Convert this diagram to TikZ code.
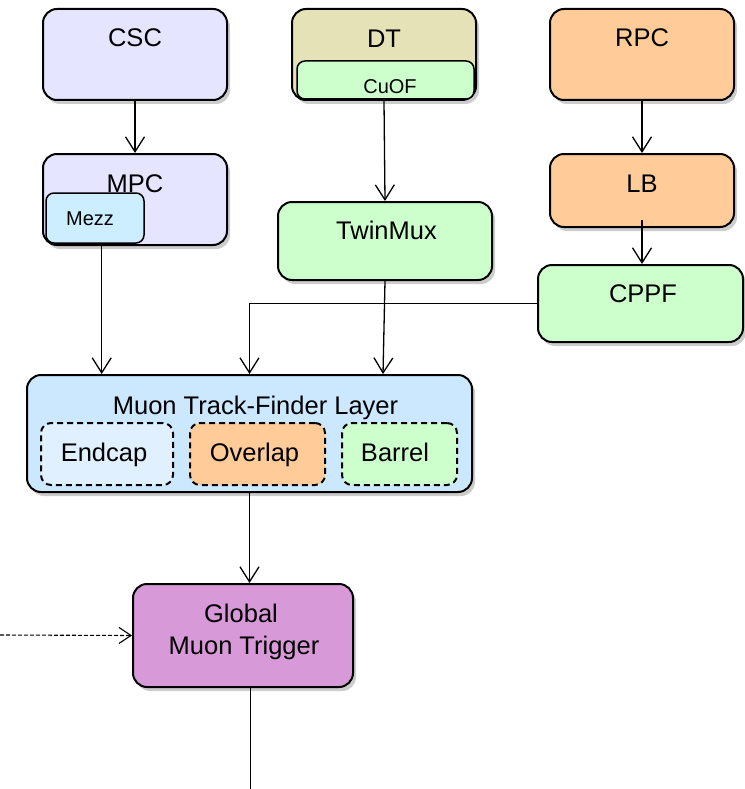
\documentclass[tikz,border=0pt]{standalone}
\usepackage{fontspec}
\setmainfont{Liberation Sans}
\usetikzlibrary{arrows.meta,shadows,calc}
\definecolor{lav}{HTML}{E5E5FF}
\definecolor{mezz}{HTML}{CCEEFF}
\definecolor{khaki}{HTML}{E6E2B8}
\definecolor{lgreen}{HTML}{CCFFCC}
\definecolor{orng}{HTML}{FFCC99}
\definecolor{lblue}{HTML}{CCE8FF}
\definecolor{pblue}{HTML}{E0F0FF}
\definecolor{violet}{HTML}{D899D8}
\begin{document}
\begin{tikzpicture}[x=1pt,y=-1pt,
  box/.style={draw=black, line width=2pt, rounded corners=14pt, inner sep=0pt,
    drop shadow={shadow xshift=3pt, shadow yshift=-4pt, opacity=0.2, fill=black}},
  subbox/.style={draw=black, line width=1.5pt, rounded corners=8pt, inner sep=0pt},
  dashbox/.style={draw=black, line width=2pt, dashed, dash pattern=on 6pt off 4pt, rounded corners=10pt, inner sep=0pt},
  lbl/.style={inner sep=0pt, font=\fontsize{25.5}{30}\selectfont, text height=18pt, text depth=0pt},
  slbl/.style={inner sep=0pt, font=\fontsize{20}{24}\selectfont, text height=14.3pt, text depth=0pt},
  arr/.style={line width=1.3pt, -{Straight Barb[length=15pt,width=19pt,line width=1.3pt]}},
  plain/.style={line width=1.3pt}
]
\useasboundingbox (0,0) rectangle (744,789);

% boxes
\node[box, fill=lav, minimum width=184pt, minimum height=91pt] (csc) at (135,54.5) {};
\node[box, fill=lav, minimum width=184pt, minimum height=91pt] (mpc) at (135,199.5) {};
\node[box, fill=khaki, minimum width=184pt, minimum height=91pt] (dt) at (384,54.5) {};
\node[subbox, fill=lgreen, minimum width=177pt, minimum height=38pt] (cuof) at (385.5,80) {};
\node[box, fill=lgreen, minimum width=214pt, minimum height=78pt] (twinmux) at (385,241) {};
\node[box, fill=orng, minimum width=184pt, minimum height=91pt] (rpc) at (642,54.5) {};
\node[box, fill=orng, minimum width=184pt, minimum height=73pt] (lb) at (642,190.5) {};
\node[box, fill=lgreen, minimum width=205pt, minimum height=77pt] (cppf) at (640.5,303.5) {};
\node[box, fill=lblue, minimum width=445pt, minimum height=117pt] (muon) at (249.5,433.5) {};
\node[dashbox, fill=pblue, minimum width=132pt, minimum height=62pt] (endcap) at (107,454) {};
\node[dashbox, fill=orng, minimum width=135pt, minimum height=62pt] (overlap) at (257.5,454) {};
\node[dashbox, fill=lgreen, minimum width=115pt, minimum height=62pt] (barrel) at (399.5,454) {};
\node[box, fill=violet, minimum width=220pt, minimum height=103pt] (gmt) at (243,635.5) {};

% labels
\node[lbl] (csct) at (135,38) {CSC};
\node[lbl] (mpct) at (135,183) {MPC};
\node[subbox, fill=mezz, minimum width=98pt, minimum height=50pt] (mezz) at (95,218) {};
\node[slbl] (mezzt) at (90,218) {Mezz};
\node[lbl] (dtt) at (384,39) {DT};
\node[slbl] (cuoft) at (390,86) {CuOF};
\node[lbl] (twinmuxt) at (386.5,230) {TwinMux};
\node[lbl] (rpct) at (642,38) {RPC};
\node[lbl] (lbt) at (642,183) {LB};
\node[lbl] (cppft) at (643,293) {CPPF};
\node[lbl] (muont) at (255.5,405) {Muon Track-Finder Layer};
\node[lbl] (endcapt) at (104,452) {Endcap};
\node[lbl] (overlapt) at (254.5,452) {Overlap};
\node[lbl] (barrelt) at (395,452) {Barrel};
\node[lbl] (gmt1) at (241,613) {Global};
\node[lbl] (gmt2) at (244,645) {Muon Trigger};

% connectors
\draw[arr] (csc.south) -- (mpc.north);
\draw[arr] (dt.south) -- (twinmux.north);
\draw[arr] (rpc.south) -- (lb.north);
\draw[arr] ([yshift=8pt]lb.south) -- (lb.south |- cppf.north);
\draw[arr] (cppf.west) -| (muon.north);
\draw[arr] (twinmux.south) -- ([xshift=133.5pt]muon.north);
\draw[arr] ([xshift=-33.3pt]mpc.south) -- ([xshift=-147.8pt]muon.north);
\draw[arr] (muon.south) -- (muon.south |- gmt.north);
\coordinate (ext) at (0,635);
\draw[line width=1.1pt, dashed, dash pattern=on 4pt off 2pt, -{Straight Barb[length=12pt,width=16pt,line width=1.1pt]}] (ext) -- (gmt.west);
\coordinate (out) at (250.5,789);
\draw[plain] (gmt.south -| out) -- (out);
\end{tikzpicture}
\end{document}
